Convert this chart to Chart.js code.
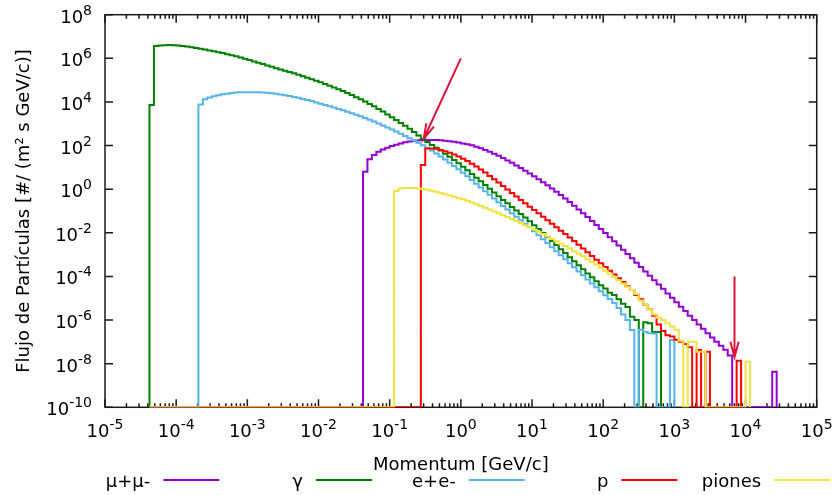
<!DOCTYPE html>
<html>
<head>
<meta charset="utf-8">
<script src="https://cdn.jsdelivr.net/npm/chart.js@4.4.0/dist/chart.umd.min.js"></script>
<style>
  html, body { margin:0; padding:0; background:#fff; }
  #wrap { width:834px; height:495px; }
</style>
</head>
<body>
<div id="wrap"><canvas id="flux" width="834" height="495"></canvas></div>
<script>
// ==========================
// Flujo de partículas vs momento (histograma log-log)
// ==========================

// ---------- DATOS ----------
const BINS_PER_DECADE = 16;   // bins logarítmicos: 16 por década
const FIRST_BIN = -70;        // primer bin ocupado (γ)
const FLOOR = 1e-10;          // bins vacíos quedan sobre el eje inferior

const seriesNames = ["μ+μ-", "γ", "e+e-", "p", "piones"];

// log10 del flujo por bin, empezando en el bin indicado; null = bin vacío
const muonStart = -22;
const muonLogFlux = [
  0.80, 1.37, 1.57, 1.72, 1.82, 1.90, 1.98, 2.04, 2.10, 2.15, 2.19, 2.22, 2.24, 2.25, 2.26, 2.26,
  2.25, 2.24, 2.22, 2.20, 2.17, 2.14,
  2.10, 2.06, 2.01, 1.95, 1.88, 1.80, 1.72, 1.63, 1.53, 1.43, 1.32, 1.21, 1.09, 0.97, 0.85, 0.72,
  0.59, 0.46, 0.32, 0.18, 0.03, -0.12, -0.27, -0.43, -0.59, -0.76, -0.93, -1.10, -1.28, -1.46, -1.64, -1.82,
  -2.01, -2.20, -2.39, -2.58, -2.78, -2.97, -3.17, -3.37, -3.57, -3.77, -3.97, -4.17, -4.37, -4.57, -4.78, -4.98,
  -5.18, -5.39, -5.59, -5.80, -6.00, -6.20, -6.40, -6.60, -6.80, -7.00, -7.18, -7.36, -7.62,
  null, null, null, null, null, null, null, null, null, -8.37
];

const gammaStart = -70;
const gammaLogFlux = [
  3.86, 6.57, 6.59, 6.60, 6.61, 6.60, 6.59, 6.57, 6.54, 6.51, 6.47, 6.44, 6.40, 6.36, 6.32, 6.28,
  6.24, 6.19, 6.14, 6.09, 6.04, 5.98, 5.92, 5.86, 5.80, 5.74, 5.67, 5.61, 5.55, 5.49, 5.43, 5.37,
  5.31, 5.25, 5.18, 5.11, 5.04, 4.97, 4.90, 4.82, 4.74, 4.66, 4.58, 4.50, 4.41, 4.32, 4.22, 4.12,
  4.02, 3.91, 3.80, 3.68, 3.56, 3.43, 3.30, 3.17, 3.04, 2.91, 2.77, 2.62, 2.46, 2.30, 2.16, 2.03,
  1.90, 1.77, 1.63, 1.49, 1.34, 1.19, 1.03, 0.87, 0.70, 0.53, 0.36, 0.19, 0.02, -0.15, -0.32, -0.49,
  -0.65, -0.82, -0.98, -1.14, -1.30, -1.47, -1.65, -1.83, -2.01, -2.19, -2.38, -2.56, -2.75, -2.93, -3.12, -3.30,
  -3.49, -3.67, -3.86, -4.04, -4.22, -4.40, -4.55, -4.75, -4.85, -5.05, -5.25, -5.40, -5.85, -6.00,
  null, -6.10, -6.15, -6.55, -6.55
];

const elecStart = -59;
const elecLogFlux = [
  3.88, 4.12, 4.20, 4.26, 4.31, 4.35, 4.38, 4.41, 4.43, 4.44, 4.45, 4.45, 4.45, 4.44, 4.43, 4.42,
  4.40, 4.37, 4.34, 4.31, 4.27, 4.23, 4.19, 4.14, 4.09, 4.04, 3.98, 3.92, 3.86,
  3.80, 3.74, 3.68, 3.62, 3.55, 3.48, 3.41, 3.34, 3.26, 3.18, 3.10, 3.01, 2.92, 2.83, 2.74, 2.64,
  2.54, 2.44, 2.34, 2.24, 2.13, 2.02, 1.90, 1.77, 1.64, 1.50, 1.36, 1.21, 1.06, 0.91,
  0.75, 0.59, 0.42, 0.25, 0.08, -0.09, -0.26, -0.43, -0.60, -0.77, -0.93, -1.10, -1.26, -1.42, -1.58, -1.75,
  -1.93, -2.11, -2.29, -2.47, -2.66, -2.84, -3.03, -3.21, -3.40, -3.58, -3.77, -3.95, -4.14, -4.32, -4.50, -4.68,
  -4.86, -5.04, -5.22, -5.45, -5.75, -6.00, -6.46,
  null, -6.45, -6.55, -6.60, -6.62, null, null, null, -6.92
];

const protonStart = -9;
const protonLogFlux = [
  1.11, 1.87, 1.87, 1.85, 1.80, 1.74, 1.67, 1.59, 1.50,
  1.40, 1.29, 1.17, 1.04, 0.90, 0.76, 0.61, 0.46, 0.31, 0.15, -0.01, -0.17, -0.33, -0.49, -0.65, -0.80,
  -0.95, -1.10, -1.26, -1.42, -1.58, -1.74, -1.90, -2.06, -2.22, -2.38, -2.55, -2.72, -2.89, -3.06, -3.23,
  -3.40, -3.57, -3.74, -3.91, -4.08, -4.25, -4.45, -4.62, -4.85, -5.05, -5.30, -5.50, -5.80, -6.20, -6.50,
  -6.70, -6.75, -6.90, -7.00, -7.10, -7.25,
  null, -7.37, null, -7.45, null, null, null, null, null, null, -7.87
];

const pionStart = -15;
const pionLogFlux = [
  -0.08, 0.03, 0.05, 0.06, 0.05, 0.03, 0.01, -0.03, -0.07, -0.12, -0.17, -0.23, -0.29, -0.35, -0.41,
  -0.46, -0.53, -0.61, -0.69, -0.77, -0.85, -0.93, -1.02, -1.10, -1.19, -1.28, -1.37, -1.46, -1.55, -1.65,
  -1.75, -1.85, -1.96, -2.06, -2.17, -2.28, -2.39, -2.50, -2.61, -2.72, -2.84, -2.96, -3.08, -3.21, -3.34,
  -3.47, -3.60, -3.74, -3.88, -4.02, -4.17, -4.32, -4.47, -4.62, -4.80, -5.10, -5.30, -5.50, -5.75, -5.90,
  -6.00, -6.15, -6.30, -6.45, -6.95,
  null, -6.99, -7.00, -7.45, -7.45, null, null, null, null, null, null, null, null, null, -7.91
];

// marcas de los ejes (exponentes de 10)
const xTickExps = [-5, -4, -3, -2, -1, 0, 1, 2, 3, 4, 5];
const yTickExps = [8, 6, 4, 2, 0, -2, -4, -6, -8, -10];

// flechas: [x inicio, y inicio, x punta, y punta] en unidades de datos
const arrows = [
  [1, 1e6, 0.3, 2e2],
  [7000, 1e-4, 7000, 2e-8]
];

const xTitle = "Momentum [GeV/c]";
const yTitle = "Flujo de Partículas [#/ (m² s GeV/c)]";

// ---------- ESTILO ----------
const COLORS = ["#9400d3", "#008000", "#56b4e9", "#ff0000", "#f0e442"];
const ARROW_COLOR = "#dc143c";
const FONT = '"DejaVu Sans", "Liberation Sans", sans-serif';

// ---------- HISTOGRAMA ----------
const edge = k => Math.pow(10, k / BINS_PER_DECADE);

function histPoints(start, logFlux){
  const pts = [{ x: edge(FIRST_BIN), y: FLOOR }, { x: edge(start), y: FLOOR }];
  logFlux.forEach((v, i) => pts.push({ x: edge(start + i), y: v == null ? FLOOR : Math.pow(10, v) }));
  pts.push({ x: edge(start + logFlux.length), y: FLOOR });
  return pts;
}

const series = [
  [muonStart, muonLogFlux],
  [gammaStart, gammaLogFlux],
  [elecStart, elecLogFlux],
  [protonStart, protonLogFlux],
  [pionStart, pionLogFlux]
];

const datasets = series.map(([start, vals], i) => ({
  label: seriesNames[i],
  data: histPoints(start, vals),
  borderColor: COLORS[i],
  borderWidth: 2,
  stepped: true,
  pointRadius: 0,
  fill: false,
  order: series.length - i   // como gnuplot: la última curva queda encima
}));

// ---------- EJES, TEXTO, LEYENDA Y FLECHAS ----------
function drawPow(ctx, exp, x, y, align){
  const base = "10", sup = String(exp);
  ctx.font = `18px ${FONT}`;
  const wb = ctx.measureText(base).width;
  ctx.font = `14px ${FONT}`;
  const ws = ctx.measureText(sup).width;
  const x0 = align === "right" ? x - wb - ws : x - (wb + ws) / 2;
  ctx.textAlign = "left";
  ctx.textBaseline = "alphabetic";
  ctx.font = `18px ${FONT}`;
  ctx.fillText(base, x0, y);
  ctx.font = `14px ${FONT}`;
  ctx.fillText(sup, x0 + wb, y - 8);
}

const gnuplotFrame = {
  id: "gnuplotFrame",
  beforeDatasetsDraw(chart){
    const { ctx, chartArea: a, scales: { x, y } } = chart;
    ctx.save();
    ctx.strokeStyle = "#1a1a1a";
    ctx.lineWidth = 1.5;
    ctx.strokeRect(a.left, a.top, a.right - a.left, a.bottom - a.top);

    ctx.beginPath();
    // marcas en x: mayores en cada década, menores en 2..9
    for (let e = xTickExps[0]; e <= xTickExps[xTickExps.length - 1]; e++){
      for (let m = 1; m <= 9; m++){
        if (e === xTickExps[xTickExps.length - 1] && m > 1) break;
        const px = x.getPixelForValue(m * Math.pow(10, e));
        const len = m === 1 ? 8 : 4;
        ctx.moveTo(px, a.bottom); ctx.lineTo(px, a.bottom - len);
        ctx.moveTo(px, a.top);    ctx.lineTo(px, a.top + len);
      }
    }
    // marcas en y
    for (const e of yTickExps){
      const py = y.getPixelForValue(Math.pow(10, e));
      ctx.moveTo(a.left, py);  ctx.lineTo(a.left + 8, py);
      ctx.moveTo(a.right, py); ctx.lineTo(a.right - 8, py);
    }
    ctx.stroke();
    ctx.restore();
  },
  afterDatasetsDraw(chart){
    const { ctx, chartArea: a, scales: { x, y } } = chart;
    ctx.save();

    // flechas
    ctx.strokeStyle = ARROW_COLOR;
    ctx.lineWidth = 2;
    for (const [x1, y1, x2, y2] of arrows){
      const p1 = [x.getPixelForValue(x1), y.getPixelForValue(y1)];
      const p2 = [x.getPixelForValue(x2), y.getPixelForValue(y2)];
      const ang = Math.atan2(p2[1] - p1[1], p2[0] - p1[0]);
      const hl = 16, ha = 15 * Math.PI / 180;
      ctx.beginPath();
      ctx.moveTo(p1[0], p1[1]); ctx.lineTo(p2[0], p2[1]);
      ctx.moveTo(p2[0] - hl * Math.cos(ang - ha), p2[1] - hl * Math.sin(ang - ha));
      ctx.lineTo(p2[0], p2[1]);
      ctx.lineTo(p2[0] - hl * Math.cos(ang + ha), p2[1] - hl * Math.sin(ang + ha));
      ctx.stroke();
    }

    ctx.fillStyle = "#000";
    // etiquetas de las marcas
    for (const e of yTickExps) drawPow(ctx, e, a.left - 13, y.getPixelForValue(Math.pow(10, e)) + 8, "right");
    for (const e of xTickExps) drawPow(ctx, e, x.getPixelForValue(Math.pow(10, e)), a.bottom + 30, "center");

    // títulos de los ejes
    ctx.font = `18px ${FONT}`;
    ctx.textAlign = "center";
    ctx.textBaseline = "alphabetic";
    ctx.fillText(xTitle, (a.left + a.right) / 2, a.bottom + 63);
    ctx.save();
    ctx.translate(29, (a.top + a.bottom) / 2);
    ctx.rotate(-Math.PI / 2);
    ctx.fillText(yTitle, 0, 0);
    ctx.restore();

    // leyenda (texto a la izquierda de la muestra de línea, estilo gnuplot)
    const keyY = 480, col = 152.7, firstLine = 163.3, sample = 56;
    ctx.textAlign = "right";
    datasets.forEach((ds, i) => {
      const lx = firstLine + col * i;
      ctx.fillStyle = "#000";
      ctx.fillText(ds.label, lx - 13, keyY + 7);
      ctx.strokeStyle = ds.borderColor;
      ctx.lineWidth = 2;
      ctx.beginPath();
      ctx.moveTo(lx, keyY); ctx.lineTo(lx + sample, keyY);
      ctx.stroke();
    });
    ctx.restore();
  }
};

new Chart(document.getElementById("flux"), {
  type: "line",
  data: { datasets },
  options: {
    responsive: false,
    animation: false,
    devicePixelRatio: 1,
    layout: { padding: { left: 105, right: 17.3, top: 14.7, bottom: 87.7 } },
    scales: {
      x: { type: "logarithmic", min: 1e-5, max: 1e5, display: false },
      y: { type: "logarithmic", min: 1e-10, max: 1e8, display: false }
    },
    plugins: { legend: { display: false }, tooltip: { enabled: false } },
    elements: { line: { tension: 0 } }
  },
  plugins: [gnuplotFrame]
});
</script>
</body>
</html>
